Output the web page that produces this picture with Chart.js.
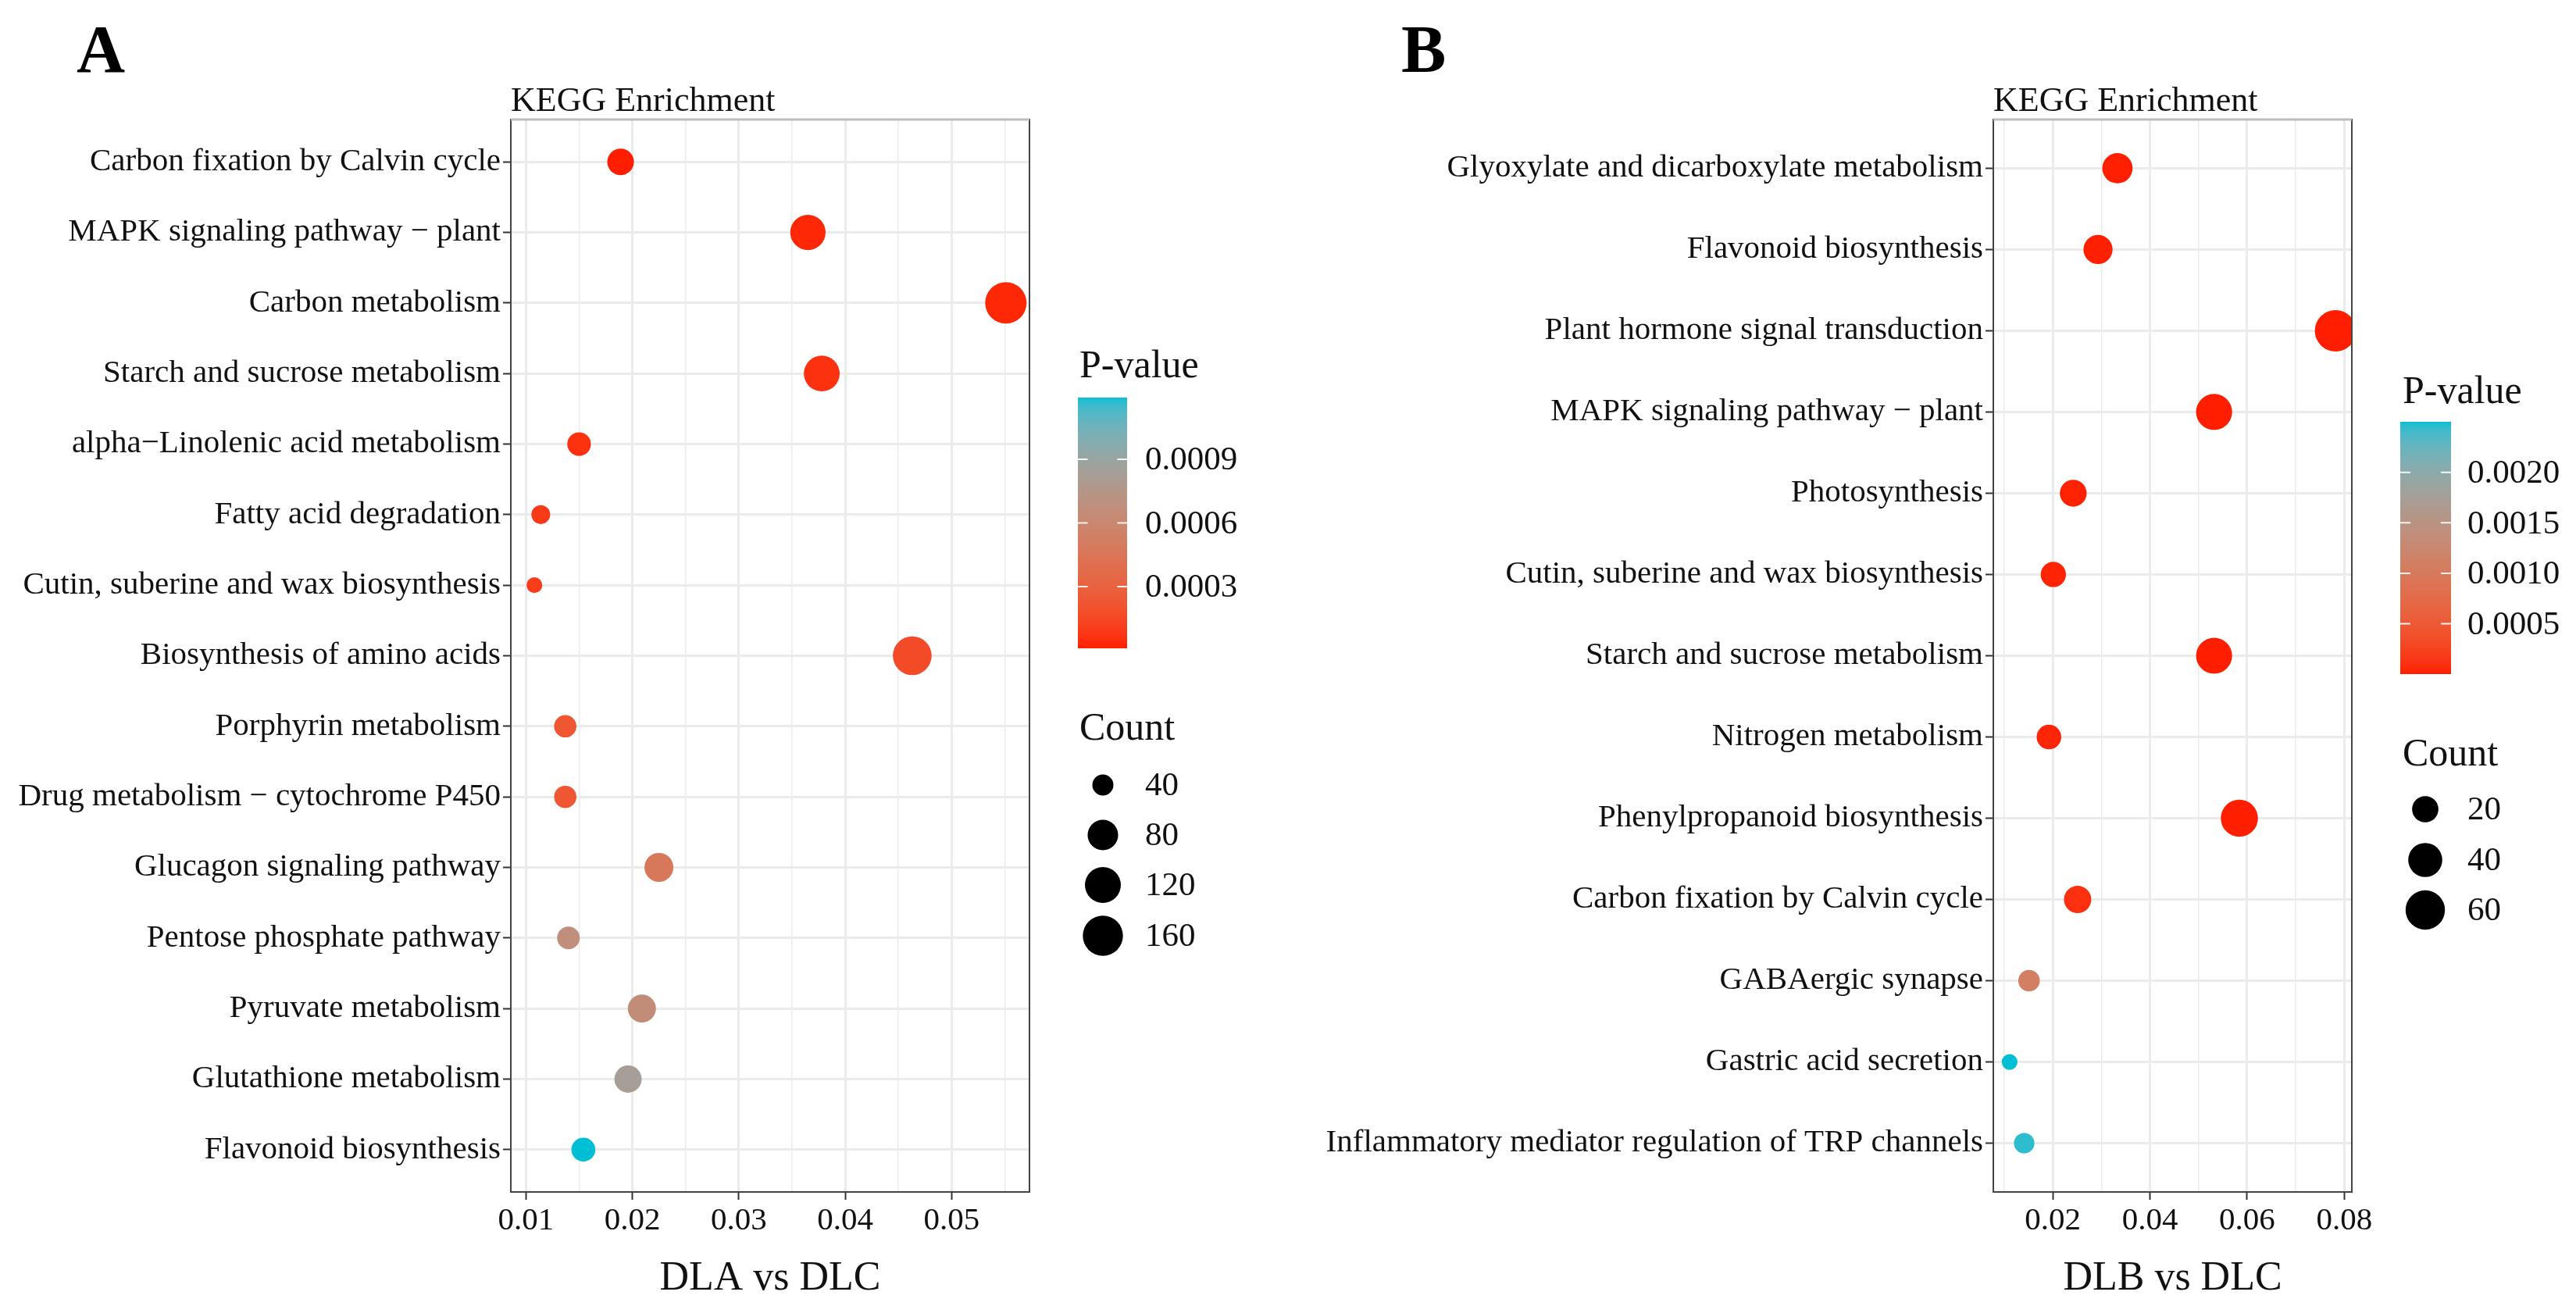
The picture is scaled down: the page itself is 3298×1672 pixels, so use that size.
<!DOCTYPE html>
<html>
<head>
<meta charset="utf-8">
<script src="https://cdn.jsdelivr.net/npm/chart.js@4"></script>
<style>
  html, body { margin: 0; padding: 0; background: #fff; }
  #wrap { position: relative; width: 3298px; height: 1672px; background: #fff; }
  canvas { position: absolute; top: 0; }
  #chartA { left: 0; }
  #chartB { left: 1649px; }
</style>
</head>
<body>
<div id="wrap">
  <canvas id="chartA" width="1649" height="1672"></canvas>
  <canvas id="chartB" width="1649" height="1672"></canvas>
</div>
<script>
// ---- panel A data (DLA vs DLC) ----
const categoriesA = [
  "Carbon fixation by Calvin cycle",
  "MAPK signaling pathway \u2212 plant",
  "Carbon metabolism",
  "Starch and sucrose metabolism",
  "alpha\u2212Linolenic acid metabolism",
  "Fatty acid degradation",
  "Cutin, suberine and wax biosynthesis",
  "Biosynthesis of amino acids",
  "Porphyrin metabolism",
  "Drug metabolism \u2212 cytochrome P450",
  "Glucagon signaling pathway",
  "Pentose phosphate pathway",
  "Pyruvate metabolism",
  "Glutathione metabolism",
  "Flavonoid biosynthesis"
];
const ratioA  = [0.0189, 0.0365, 0.0551, 0.0378, 0.0150, 0.0114, 0.0108, 0.0463, 0.0137, 0.0137, 0.0225, 0.0140, 0.0209, 0.0196, 0.0154];
const countA  = [59, 115, 173, 119, 47, 36, 34, 146, 43, 43, 71, 44, 66, 62, 48];
const pvalueA = [0.00001, 0.00003, 0.00003, 0.00006, 0.00006, 0.00009, 0.00010, 0.00017, 0.00023, 0.00023, 0.00047, 0.00067, 0.00066, 0.00083, 0.00119];
const xTicksA = [0.01, 0.02, 0.03, 0.04, 0.05];
const pTicksA = [0.0003, 0.0006, 0.0009];
const countTicksA = [40, 80, 120, 160];

// ---- panel B data (DLB vs DLC) ----
const categoriesB = [
  "Glyoxylate and dicarboxylate metabolism",
  "Flavonoid biosynthesis",
  "Plant hormone signal transduction",
  "MAPK signaling pathway \u2212 plant",
  "Photosynthesis",
  "Cutin, suberine and wax biosynthesis",
  "Starch and sucrose metabolism",
  "Nitrogen metabolism",
  "Phenylpropanoid biosynthesis",
  "Carbon fixation by Calvin cycle",
  "GABAergic synapse",
  "Gastric acid secretion",
  "Inflammatory mediator regulation of TRP channels"
];
const ratioB  = [0.0333, 0.0293, 0.0782, 0.0532, 0.0242, 0.0201, 0.0532, 0.0192, 0.0584, 0.0251, 0.0151, 0.0111, 0.0141];
const countB  = [29, 26, 69, 47, 21, 18, 47, 17, 51, 22, 13, 10, 12];
const pvalueB = [0.000005, 0.00001, 0.000001, 0.000002, 0.00002, 0.00003, 0.000003, 0.00004, 0.000002, 0.0001, 0.0011, 0.0025, 0.00245];
const xTicksB = [0.02, 0.04, 0.06, 0.08];
const pTicksB = [0.0005, 0.0010, 0.0015, 0.0020];
const countTicksB = [20, 40, 60];

const SERIF = '"Liberation Serif", "Times New Roman", serif';
const TXT = '#111111';
const LOW_COL = '#FF1E00';
const HIGH_COL = '#00BED3';

// colour helpers: ggplot-style gradient interpolated in CIELAB
function hexToRgb(h) {
  h = h.replace('#', '');
  return [parseInt(h.substr(0, 2), 16), parseInt(h.substr(2, 2), 16), parseInt(h.substr(4, 2), 16)];
}
function toLin(c) { c /= 255; return c <= 0.04045 ? c / 12.92 : Math.pow((c + 0.055) / 1.055, 2.4); }
function fromLin(c) { c = c <= 0.0031308 ? 12.92 * c : 1.055 * Math.pow(c, 1 / 2.4) - 0.055; return Math.round(Math.min(1, Math.max(0, c)) * 255); }
function rgbToLab(rgb) {
  const [r, g, b] = rgb.map(toLin);
  const X = (0.4124 * r + 0.3576 * g + 0.1805 * b) / 0.95047;
  const Y = (0.2126 * r + 0.7152 * g + 0.0722 * b);
  const Z = (0.0193 * r + 0.1192 * g + 0.9505 * b) / 1.08883;
  const f = t => t > 0.008856 ? Math.cbrt(t) : 7.787 * t + 16 / 116;
  const fx = f(X), fy = f(Y), fz = f(Z);
  return [116 * fy - 16, 500 * (fx - fy), 200 * (fy - fz)];
}
function labToRgb(lab) {
  const fy = (lab[0] + 16) / 116, fx = fy + lab[1] / 500, fz = fy - lab[2] / 200;
  const fi = t => t > 0.206893 ? t * t * t : (t - 16 / 116) / 7.787;
  const X = fi(fx) * 0.95047, Y = fi(fy), Z = fi(fz) * 1.08883;
  const r = 3.2406 * X - 1.5372 * Y - 0.4986 * Z;
  const g = -0.9689 * X + 1.8758 * Y + 0.0415 * Z;
  const b = 0.0557 * X - 0.2040 * Y + 1.0570 * Z;
  return 'rgb(' + fromLin(r) + ',' + fromLin(g) + ',' + fromLin(b) + ')';
}
const labLow = rgbToLab(hexToRgb(LOW_COL));
const labHigh = rgbToLab(hexToRgb(HIGH_COL));
function rampAt(t) {
  t = Math.min(1, Math.max(0, t));
  return labToRgb([0, 1, 2].map(k => labLow[k] + (labHigh[k] - labLow[k]) * t));
}

// size scale like ggplot scale_size (area): diameter from dMin to dMax over data range
function makeRadius(counts) {
  const lo = Math.min(...counts), hi = Math.max(...counts);
  const dMin = 20.2, dMax = 53;
  return c => (dMin + (dMax - dMin) * Math.sqrt(Math.max(0, c - lo) / (hi - lo))) / 2;
}

function serif(size, bold) { return (bold ? 'bold ' : '') + size + 'px ' + SERIF; }

// frame, titles and both legends; cfg is captured directly (not through chart options)
function decorPlugin(cfg, radius) {
  return {
    id: 'decor',
    afterDatasetsDraw(chart) {
      const ctx = chart.ctx, a = chart.chartArea;
      ctx.save();
      ctx.strokeStyle = '#444';
      ctx.lineWidth = 2;
      ctx.strokeRect(a.left, a.top, a.right - a.left, a.bottom - a.top);
      ctx.strokeStyle = '#BDBDBD';
      ctx.lineWidth = 3;
      ctx.beginPath(); ctx.moveTo(a.left, a.top); ctx.lineTo(a.right, a.top); ctx.stroke();
      ctx.restore();
    },
    afterDraw(chart) {
      const ctx = chart.ctx, a = chart.chartArea;
      ctx.save();
      ctx.fillStyle = '#000';
      ctx.textAlign = 'left';
      ctx.textBaseline = 'alphabetic';
      ctx.font = serif(86, true);
      ctx.fillText(cfg.letter, cfg.letterX, 92);
      ctx.fillStyle = TXT;
      ctx.font = serif(44);
      ctx.fillText('KEGG Enrichment', a.left, 142);
      ctx.font = serif(52);
      ctx.textAlign = 'center';
      ctx.fillText(cfg.xTitle, (a.left + a.right) / 2, 1651);

      // colour bar legend
      const L = cfg.legend;
      ctx.textAlign = 'left';
      ctx.font = serif(50);
      ctx.fillText('P-value', L.x, L.pTitleY);
      const pLo = Math.min(...cfg.pvals), pHi = Math.max(...cfg.pvals);
      const bx = L.barX, bw = L.barW, bt = L.barTop, bb = L.barBottom;
      for (let y = bt; y < bb; y++) {
        ctx.fillStyle = rampAt((bb - y - 0.5) / (bb - bt));
        ctx.fillRect(bx, y, bw, 1);
      }
      ctx.font = serif(43);
      ctx.textBaseline = 'middle';
      cfg.pTicks.forEach(v => {
        const y = bb - (v - pLo) / (pHi - pLo) * (bb - bt);
        ctx.strokeStyle = 'rgba(255,255,255,0.9)';
        ctx.lineWidth = 2;
        ctx.beginPath();
        ctx.moveTo(bx, y); ctx.lineTo(bx + bw * 0.2, y);
        ctx.moveTo(bx + bw * 0.8, y); ctx.lineTo(bx + bw, y);
        ctx.stroke();
        ctx.fillStyle = TXT;
        ctx.fillText(v.toFixed(4), L.labelX, y + 2);
      });

      // size legend
      ctx.textBaseline = 'alphabetic';
      ctx.font = serif(50);
      ctx.fillText('Count', L.x, L.cTitleY);
      ctx.font = serif(43);
      ctx.textBaseline = 'middle';
      cfg.countTicks.forEach((c, i) => {
        const y = L.cY[i];
        ctx.fillStyle = '#000';
        ctx.beginPath();
        ctx.arc(L.dotX, y, radius(c), 0, Math.PI * 2);
        ctx.fill();
        ctx.fillStyle = TXT;
        ctx.fillText(String(c), L.labelX, y + 2);
      });
      ctx.restore();
    }
  };
}

function buildChart(id, cfg) {
  const n = cfg.cats.length;
  const radius = makeRadius(cfg.counts);
  const lo = Math.min(...cfg.ratio), hi = Math.max(...cfg.ratio);
  const xMin = lo - (hi - lo) * 0.05, xMax = hi + (hi - lo) * 0.05;
  const step = cfg.xTicks[1] - cfg.xTicks[0];
  // major ticks plus minor gridlines half way between them
  const xGrid = [];
  for (let k = -1; k < cfg.xTicks.length; k++) {
    const base = k < 0 ? cfg.xTicks[0] - step : cfg.xTicks[k];
    if (k >= 0 && base >= xMin && base <= xMax) xGrid.push({ value: base, major: true });
    const mid = base + step / 2;
    if (mid >= xMin && mid <= xMax) xGrid.push({ value: mid, major: false });
  }
  const isMajor = i => !!(xGrid[i] && xGrid[i].major);
  const pLo = Math.min(...cfg.pvals), pHi = Math.max(...cfg.pvals);

  return new Chart(document.getElementById(id), {
    type: 'bubble',
    data: {
      datasets: [{
        data: cfg.cats.map((c, i) => ({ x: cfg.ratio[i], y: i, r: radius(cfg.counts[i]) })),
        backgroundColor: cfg.pvals.map(p => rampAt((p - pLo) / (pHi - pLo))),
        borderWidth: 0,
        hoverBorderWidth: 0,
        hoverRadius: 0,
        clip: 0
      }]
    },
    options: {
      responsive: false,
      animation: false,
      devicePixelRatio: 1,
      events: [],
      layout: { padding: { left: 0, top: 153, right: cfg.padRight, bottom: 1672 - 1526 - 60 } },
      scales: {
        x: {
          type: 'linear',
          min: xMin,
          max: xMax,
          afterBuildTicks: s => { s.ticks = xGrid.map(t => ({ value: t.value })); },
          afterFit: s => { s.height = 60; },
          ticks: {
            autoSkip: false,
            maxRotation: 0,
            minRotation: 0,
            padding: 3,
            color: TXT,
            font: { family: SERIF, size: 41 },
            callback: (v, i) => isMajor(i) ? v.toFixed(2) : ''
          },
          grid: {
            color: '#EBEBEB',
            lineWidth: c => isMajor(c.index) ? 3 : 1.5,
            tickColor: c => isMajor(c.index) ? '#333' : 'rgba(0,0,0,0)',
            tickLength: 10,
            tickWidth: 2
          },
          border: { display: false }
        },
        y: {
          type: 'linear',
          reverse: true,
          min: -0.6,
          max: n - 1 + 0.6,
          afterBuildTicks: s => { s.ticks = cfg.cats.map((c, i) => ({ value: i })); },
          afterFit: s => { s.width = cfg.yWidth; },
          ticks: {
            autoSkip: false,
            padding: 3,
            color: TXT,
            font: { family: SERIF, size: 41 },
            callback: v => cfg.cats[v]
          },
          grid: {
            color: '#EBEBEB',
            lineWidth: 3,
            tickColor: '#333',
            tickLength: 10,
            tickWidth: 2
          },
          border: { display: false }
        }
      },
      plugins: {
        legend: { display: false },
        tooltip: { enabled: false }
      }
    },
    plugins: [decorPlugin(cfg, radius)]
  });
}

buildChart('chartA', {
  cats: categoriesA, ratio: ratioA, counts: countA, pvals: pvalueA,
  xTicks: xTicksA, pTicks: pTicksA, countTicks: countTicksA,
  letter: 'A', letterX: 98, xTitle: 'DLA vs DLC',
  yWidth: 654, padRight: 1649 - 1318,
  legend: { x: 1382, pTitleY: 483, barX: 1380, barW: 63, barTop: 509, barBottom: 830, labelX: 1466,
            cTitleY: 947, dotX: 1412, cY: [1005, 1069, 1133, 1198] }
});

buildChart('chartB', {
  cats: categoriesB, ratio: ratioB, counts: countB, pvals: pvalueB,
  xTicks: xTicksB, pTicks: pTicksB, countTicks: countTicksB,
  letter: 'B', letterX: 145, xTitle: 'DLB vs DLC',
  yWidth: 903, padRight: 1649 - 1362,
  legend: { x: 1427, pTitleY: 516, barX: 1424, barW: 65, barTop: 540, barBottom: 863, labelX: 1510,
            cTitleY: 980, dotX: 1456, cY: [1036, 1101, 1165] }
});
</script>
</body>
</html>
